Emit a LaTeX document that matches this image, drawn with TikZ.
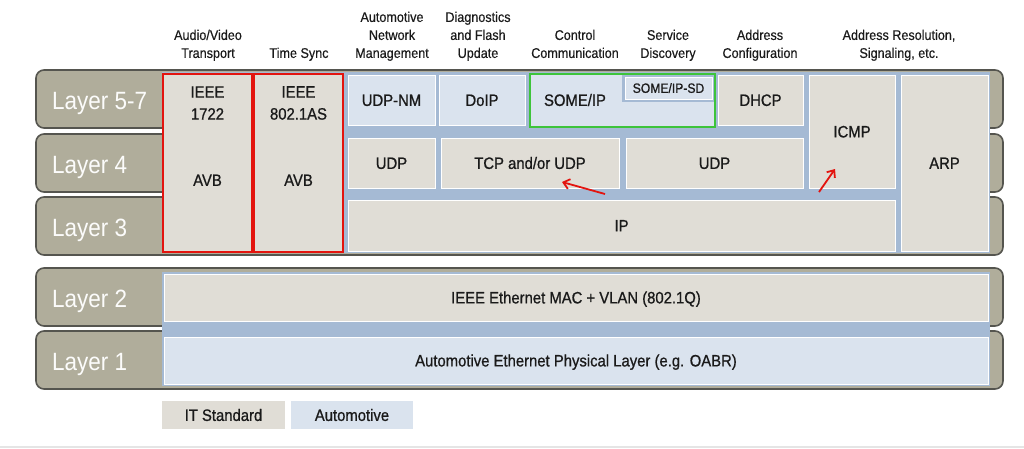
\documentclass[tikz,border=0pt]{standalone}
\usepackage{fontspec}
\setmainfont{Liberation Sans}[FakeStretch=0.9]
\newfontfamily\boxfont{Liberation Sans}[FakeStretch=0.9, FakeBold=0.8]
\newfontfamily\labfont{Liberation Sans}[FakeStretch=0.9, FakeBold=0.4]
\usetikzlibrary{arrows.meta,shadows}
\definecolor{band}{HTML}{B0AD9B}
\definecolor{bandline}{HTML}{55554F}
\definecolor{panel}{HTML}{A5BAD4}
\definecolor{itgray}{HTML}{E0DDD6}
\definecolor{autoblue}{HTML}{DAE3EE}
\definecolor{redc}{HTML}{E3140F}
\definecolor{greenc}{HTML}{3DC43A}
\definecolor{txt}{HTML}{1A1A1A}
\begin{document}
\begin{tikzpicture}[x=1pt,y=-1pt,
  layerband/.style={draw=bandline, line width=1.6pt, fill=band, rounded corners=8pt},
  layertext/.style={text=white!96!band, font=\fontsize{25}{25}\selectfont, anchor=base west, inner sep=0pt},
  panelbox/.style={fill=panel, draw=none},
  box/.style={draw=white, line width=0.7pt, inner sep=0pt, text=txt,
    font=\boxfont\fontsize{16.5}{22}\selectfont, text height=11.8pt, text depth=0pt,
    drop shadow={shadow xshift=1pt, shadow yshift=-1pt, opacity=0.35, fill=black!55}},
  itbox/.style={box, fill=itgray},
  autobox/.style={box, fill=autoblue},
  redbox/.style={draw=redc, line width=2pt, fill=itgray, inner sep=0pt},
  boxtext/.style={text=txt, font=\boxfont\fontsize{16.5}{22}\selectfont, align=center, inner sep=0pt},
  toplabel/.style={text=txt, font=\labfont\fontsize{14}{18}\selectfont, align=center, anchor=south, inner sep=0pt},
  legendbox/.style={draw=none, inner sep=0pt, text=txt, font=\boxfont\fontsize{16.5}{20}\selectfont,
    text height=11.8pt, text depth=0pt},
  redarrow/.style={draw=redc, line width=1.8pt, -{Straight Barb[length=6pt,width=10pt,line width=1.8pt]}}
]
\useasboundingbox (0,0) rectangle (1024,448);
\fill[white] (0,0) rectangle (1024,448);
\fill[black!10] (0,446) rectangle (1024,448);

% top labels
\node[toplabel] (lab1) at (208,63.5) {Audio/Video\\Transport\strut};
\node[toplabel] (lab2) at (299,63.5) {Time Sync\strut};
\node[toplabel] (lab3) at (392,63.5) {Automotive\\Network\\Management\strut};
\node[toplabel] (lab4) at (478,63.5) {Diagnostics\\and Flash\\Update\strut};
\node[toplabel] (lab5) at (575,63.5) {Control\\Communication\strut};
\node[toplabel] (lab6) at (668,63.5) {Service\\Discovery\strut};
\node[toplabel] (lab7) at (760,63.5) {Address\\Configuration\strut};
\node[toplabel] (lab8) at (899,63.5) {Address Resolution,\\Signaling, etc.\strut};

% layer bands
\draw[layerband] (36,70) rectangle (1003,128);
\draw[layerband] (36,134) rectangle (1003,192);
\draw[layerband] (36,197) rectangle (1003,255);
\draw[layerband] (36,268) rectangle (1003,326);
\draw[layerband] (36,331) rectangle (1003,389);
\node[layertext] (l57) at (52,109.5) {Layer 5-7};
\node[layertext] (l4) at (52,173.5) {Layer 4};
\node[layertext] (l3) at (52,236.5) {Layer 3};
\node[layertext] (l2) at (52,307.5) {Layer 2};
\node[layertext] (l1) at (52,370.5) {Layer 1};

% blue panels
\fill[panelbox] (162,72) rectangle (990,253);
\fill[panelbox] (162,272) rectangle (990,386);

% AVB columns
\node[redbox, minimum width=89pt, minimum height=178pt] (avb1) at (207.5,163) {};
\node[redbox, minimum width=89pt, minimum height=178pt] (avb2) at (298.5,163) {};
\node[boxtext] (t1722) at (207.5,103) {IEEE\\1722};
\node[boxtext, text height=11.8pt, text depth=0pt] (tavb1) at (207.5,180) {AVB};
\node[boxtext] (t8021) at (298.5,103) {IEEE\\802.1AS};
\node[boxtext, text height=11.8pt, text depth=0pt] (tavb2) at (298.5,180) {AVB};

% layer 5-7
\node[autobox, minimum width=87pt, minimum height=50pt] (udpnm) at (391.5,100) {UDP-NM};
\node[autobox, minimum width=86pt, minimum height=50pt] (doip) at (482,100) {DoIP};
\node[draw=greenc, line width=2pt, fill=autoblue, minimum width=185pt, minimum height=53pt, inner sep=0pt] (someip) at (622.5,100.5) {};
\fill[panelbox] (622,75) rectangle (714,102);
\node[autobox, minimum width=87pt, minimum height=22pt, font=\boxfont\fontsize{13.5}{16}\selectfont, text height=9.7pt] (sd) at (668.5,88) {SOME/IP-SD};
\node[boxtext, text height=11.8pt, text depth=0pt] (tsomeip) at (575,100) {SOME/IP};
\node[itbox, minimum width=85pt, minimum height=50pt] (dhcp) at (760.5,100) {DHCP};
\node[itbox, minimum width=86pt, minimum height=113pt] (icmp) at (852,131.5) {ICMP};
\node[itbox, minimum width=87pt, minimum height=176pt] (arp) at (944.5,163) {ARP};

% layer 4
\node[itbox, minimum width=87pt, minimum height=50pt] (udpa) at (391.5,163) {UDP};
\node[itbox, minimum width=178pt, minimum height=50pt] (tcp) at (530,163) {TCP and/or UDP};
\node[itbox, minimum width=177pt, minimum height=50pt] (udpb) at (714.5,163) {UDP};

% layer 3
\node[itbox, minimum width=547pt, minimum height=51pt] (ip) at (621.5,225.5) {IP};

% layer 2 / 1
\node[itbox, minimum width=824pt, minimum height=47pt] (mac) at (576,297.5) {IEEE Ethernet MAC + VLAN (802.1Q)};
\node[autobox, minimum width=824pt, minimum height=47pt] (phy) at (576,360.5) {Automotive Ethernet Physical Layer (e.g. OABR)};

% legend
\node[legendbox, fill=itgray, minimum width=123pt, minimum height=28pt] (legit) at (223.5,415) {IT Standard};
\node[legendbox, fill=autoblue, minimum width=122pt, minimum height=28pt] (legauto) at (352,415) {Automotive};

% red arrows
\coordinate (a1s) at (605,194);
\coordinate (a1e) at (562,182);
\coordinate (a2s) at (819,192);
\coordinate (a2e) at (835,169);
\draw[redarrow] (a1s) -- (a1e);
\draw[redarrow] (a2s) -- (a2e);
\end{tikzpicture}
\end{document}
